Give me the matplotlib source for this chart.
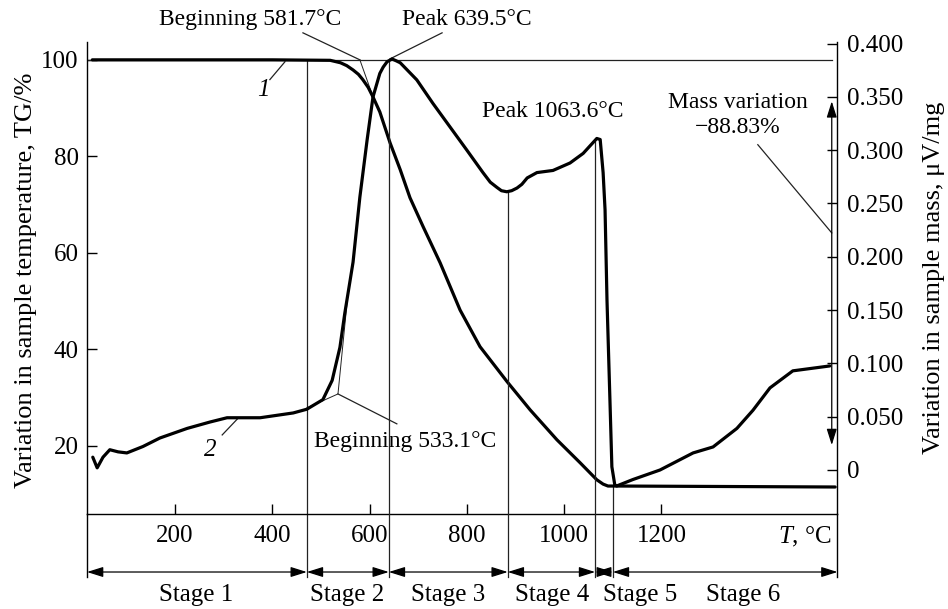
import matplotlib
matplotlib.use('Agg')
import numpy as np
import matplotlib.pyplot as plt
from matplotlib.ticker import FuncFormatter

plt.rcParams['font.family'] = ['Liberation Serif', 'DejaVu Serif']
plt.rcParams['mathtext.fontset'] = 'custom'
plt.rcParams['mathtext.it'] = 'Liberation Serif:italic'
plt.rcParams['mathtext.rm'] = 'Liberation Serif'

# curve 1: TG, %
tg_temp = [30, 200, 400, 519, 540, 553, 566, 577, 586, 597, 607, 621, 642,
           663, 683, 710, 745, 786, 827, 883, 930, 985, 1033, 1067, 1080,
           1090, 1115, 1557]
tg_val = [100, 100, 100, 99.9, 99.4, 98.8, 97.9, 97.0, 95.9, 94.3, 92.3,
          89.2, 82.8, 77.2, 71.4, 65.4, 57.9, 48.1, 40.5, 33.2, 27.4, 21.2,
          16.4, 12.9, 12.0, 11.6, 11.6, 11.4]

# curve 2: DTA, uV/mg
dta_temp = [31, 40, 52, 66, 83, 101, 134, 169, 225, 272, 307, 375, 443, 471,
            504, 523, 539, 549, 560, 566, 580, 595, 607, 621, 628, 636, 646,
            654, 663, 697, 730, 765, 800, 833, 848, 862, 871, 882, 892, 903,
            913, 924, 944, 977, 1012, 1039, 1067, 1074, 1080, 1084, 1088,
            1094, 1098, 1104, 1108, 1141, 1197, 1265, 1306, 1355, 1388, 1423,
            1470, 1546]
dta_val = [0.012, 0.002, 0.012, 0.019, 0.017, 0.016, 0.022, 0.030, 0.039,
           0.045, 0.049, 0.049, 0.0535, 0.057, 0.066, 0.084, 0.115, 0.147,
           0.178, 0.195, 0.256, 0.310, 0.350, 0.372, 0.378, 0.383, 0.3856,
           0.384, 0.382, 0.366, 0.344, 0.322, 0.300, 0.279, 0.270, 0.265,
           0.262, 0.261, 0.262, 0.2645, 0.268, 0.274, 0.279, 0.281, 0.288,
           0.297, 0.311, 0.310, 0.279, 0.244, 0.159, 0.066, 0.003, -0.014,
           -0.015, -0.009, 0.0, 0.016, 0.0216, 0.039, 0.056, 0.077, 0.093,
           0.0976]

stage_edges = [471, 639.5, 884, 1063.6, 1100]
stage_top_on = ['tg', 'dta', 'dta', 'dta', 'tg']
stage_names = ['Stage 1', 'Stage 2', 'Stage 3', 'Stage 4', 'Stage 5', 'Stage 6']
stage_label_x = [244, 553, 761, 975, 1156, 1367]

x_ticks = [200, 400, 600, 800, 1000, 1200]
left_ticks = [20, 40, 60, 80, 100]
right_ticks = [0, 0.05, 0.10, 0.15, 0.20, 0.25, 0.30, 0.35, 0.40]

x_min, x_max = 19.1, 1561.8

fig = plt.figure(figsize=(9.48, 6.09), dpi=100)
ax = fig.add_axes([87 / 948, 95 / 609, 750.5 / 948, 472 / 609])
ax2 = ax.twinx()

ax.set_xlim(x_min, x_max)
ax.set_ylim(5.8, 103.7)
ax2.set_ylim(-0.0413, 0.4015)

for s in ['top', 'right']:
    ax.spines[s].set_visible(False)
for s in ['top', 'left', 'bottom']:
    ax2.spines[s].set_visible(False)
for a in (ax, ax2):
    for s in a.spines.values():
        s.set_linewidth(1.0)

ax.set_xticks(x_ticks)
ax.set_yticks(left_ticks)
ax2.set_yticks(right_ticks)
ax2.yaxis.set_major_formatter(FuncFormatter(lambda v, _: '0' if abs(v) < 1e-9 else f'{v:.3f}'))
ax.tick_params(axis='x', direction='in', length=7, width=1, labelsize=18, pad=8)
ax.tick_params(axis='y', direction='in', length=7, width=1, labelsize=18, pad=6)
ax2.tick_params(axis='y', direction='in', length=7, width=1, labelsize=18, pad=7)

lw_thin = 0.9
thin = '#222222'


def frac_to_data(a, f):
    lo, hi = a.get_ylim()
    return lo + f * (hi - lo)


bottom_frac = -0.1335
arrow_frac = -0.1229
label_frac = -0.1716

# curves
ax.plot(tg_temp, tg_val, color='black', lw=2.3, solid_capstyle='round',
        solid_joinstyle='round', zorder=3)
ax2.plot(dta_temp, dta_val, color='black', lw=2.3, solid_capstyle='round',
         solid_joinstyle='round', zorder=3)

# TG = 100 reference line
ax.plot([x_min, 1550], [100, 100], color=thin, lw=lw_thin)

# extended spines
for xv in (x_min, x_max):
    ax.plot([xv, xv], [5.8, frac_to_data(ax, bottom_frac)], color='black',
            lw=1.0, clip_on=False)

# stage boundary lines
for e, on in zip(stage_edges, stage_top_on):
    if on == 'tg':
        top = np.interp(e, tg_temp, tg_val)
        ax.plot([e, e], [top, frac_to_data(ax, bottom_frac)], color=thin,
                lw=lw_thin, clip_on=False)
    else:
        top = np.interp(e, dta_temp, dta_val)
        ax2.plot([e, e], [top, frac_to_data(ax2, bottom_frac)], color=thin,
                 lw=lw_thin, clip_on=False)

# stage arrows and labels
bounds = [x_min] + stage_edges + [x_max]
xt = ax.get_xaxis_transform()
for i, name in enumerate(stage_names):
    ax.annotate('', xy=(bounds[i + 1], arrow_frac), xytext=(bounds[i], arrow_frac),
                xycoords=xt, textcoords=xt, annotation_clip=False,
                arrowprops=dict(arrowstyle='<|-|>,head_length=0.7,head_width=0.22',
                                color='black', lw=lw_thin, shrinkA=0, shrinkB=0,
                                mutation_scale=14))
    ax.text(stage_label_x[i], label_frac, name, transform=xt, ha='center',
            va='center', fontsize=18)

ax.text(1550, -0.049, r'$\mathit{T}$, °C', transform=xt, ha='right',
        va='center', fontsize=18)

# annotations
ann = dict(fontsize=17, ha='center', va='center')
ax.text(354, 108.4, 'Beginning 581.7°C', **ann)
ax.plot([463, 580], [105.6, 100], color=thin, lw=lw_thin, clip_on=False)
ax.plot([580, 605], [100, 92.9], color=thin, lw=0.7)

ax.text(800, 108.4, 'Peak 639.5°C', **ann)
ax.plot([749, 642], [105.6, 100.2], color=thin, lw=lw_thin, clip_on=False)

ax.text(977, 89.2, 'Peak 1063.6°C', **ann)

ax.text(673, 20.8, 'Beginning 533.1°C', **ann)
ax.plot([656, 535], [24.5, 30.7], color=thin, lw=lw_thin)
ax.plot([471, 535, 556], [27.8, 30.7, 52], color=thin, lw=0.7)

ax.text(1356, 88.6, 'Mass variation\n\u221288.83%', linespacing=1.25, **ann)
ax.plot([1398, 1550], [82.4, 64.1], color=thin, lw=lw_thin)
ax.annotate('', xy=(1550, 91.4), xytext=(1550, 20.1),
            arrowprops=dict(arrowstyle='<|-|>,head_length=0.7,head_width=0.22',
                            color='black', lw=lw_thin, shrinkA=0, shrinkB=0,
                            mutation_scale=14))

ax.text(381, 93.8, '1', fontsize=18, style='italic', ha='center', va='center')
ax.plot([395, 426], [95.9, 99.6], color=thin, lw=lw_thin)
ax.text(272, 19.1, '2', fontsize=18, style='italic', ha='center', va='center')
ax.plot([297, 330], [22.2, 25.7], color=thin, lw=lw_thin)

fig.text(26 / 948, 1 - 280 / 609, 'Variation in sample temperature, TG/%',
         rotation=90, ha='center', va='center', fontsize=19)
fig.text(934 / 948, 1 - 278 / 609, 'Variation in sample mass, \u03bcV/mg',
         rotation=90, ha='center', va='center', fontsize=19)

fig.savefig('out.png', dpi=100)
